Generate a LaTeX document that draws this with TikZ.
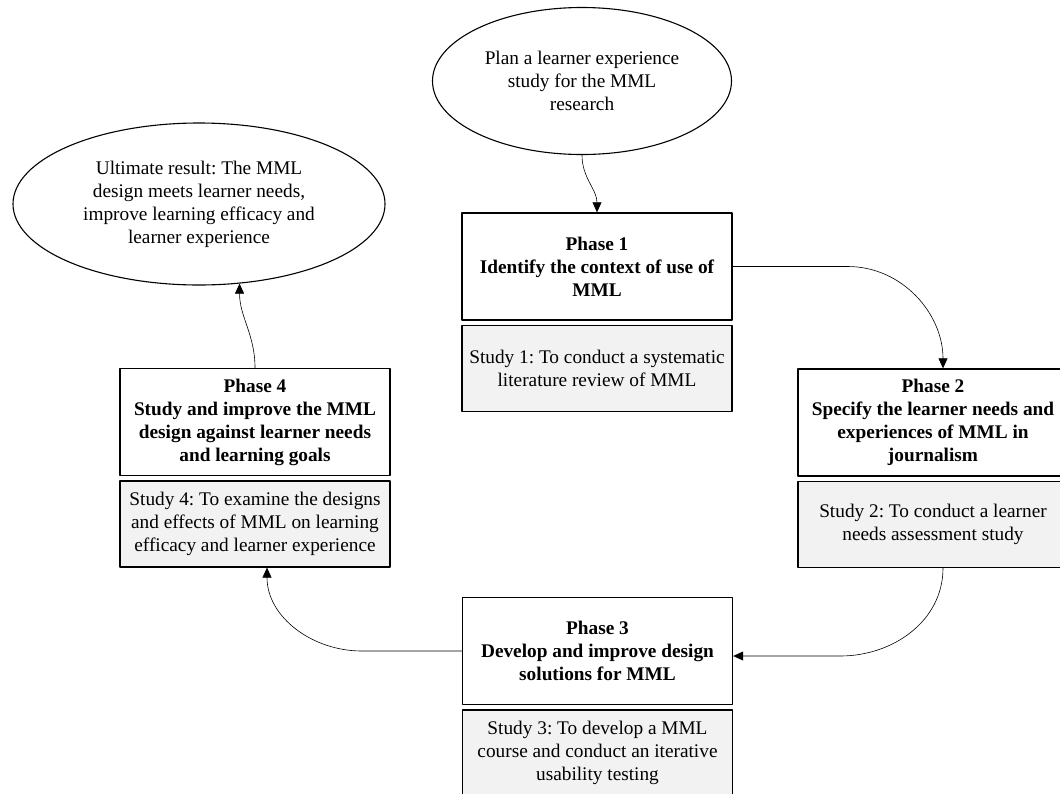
\documentclass[tikz,border=0pt]{standalone}
\usepackage{fontspec}
\setmainfont{Liberation Serif}
\usetikzlibrary{arrows.meta,positioning,shapes.geometric}
\definecolor{studygray}{RGB}{242,242,242}
\frenchspacing

\begin{document}
\begin{tikzpicture}[x=1pt, y=-1pt, line join=round, line cap=round, >={Triangle[length=10pt,width=9pt]},
		font=\fontsize{19.3}{23}\selectfont,
		phase/.style={draw, line width=1.4pt, minimum width=270pt, minimum height=107pt, align=center, inner sep=2pt, font=\fontsize{19.3}{23}\selectfont\bfseries},
		study/.style={draw, line width=1.4pt, fill=studygray, minimum width=270pt, minimum height=86pt, align=center, inner sep=2pt},
		goal/.style={draw, ellipse, line width=1.1pt, align=center, inner sep=0pt},
		link/.style={->, line width=0.6pt}]
	\def\xmin{0} \def\xmax{1060}
	\def\ymin{0} \def\ymax{793}
	\useasboundingbox (\xmin,\ymin) rectangle (\xmax,\ymax);
	% start and end
	\node[goal, minimum width=299pt, minimum height=147pt] (plan) at (582,81) {Plan a learner experience\\study for the MML\\research};
	\node[goal, minimum width=372pt, minimum height=162pt] (result) at (199,204) {Ultimate result: The MML\\design meets learner needs,\\improve learning efficacy and\\learner experience};
	% phases
	\node[phase] (ph1) at (597,266.5) {Phase 1\\Identify the context of use of\\MML};
	\node[study, below=4pt of ph1] (st1) {Study 1: To conduct a systematic\\literature review of MML};
	\node[phase] (ph2) at (933,422.5) {Phase 2\\Specify the learner needs and\\experiences of MML in\\journalism};
	\node[study, below=4pt of ph2] (st2) {Study 2: To conduct a learner\\needs assessment study};
	\node[phase] (ph3) at (597.5,651) {Phase 3\\Develop and improve design\\solutions for MML};
	\node[study, below=4pt of ph3] (st3) {Study 3: To develop a MML\\course and conduct an iterative\\usability testing};
	\node[phase] (ph4) at (255,422) {Phase 4\\Study and improve the MML\\design against learner needs\\and learning goals};
	\node[study, below=4pt of ph4] (st4) {Study 4: To examine the designs\\and effects of MML on learning\\efficacy and learner experience};
	% connectors
	\draw[link] (plan.south) to[out=-90,in=90] (ph1.north);
	\draw[link] (ph1.east) -- ([xshift=115pt]ph1.east) to[out=0,in=90] ([xshift=10pt]ph2.north);
	\draw[link] ([xshift=10pt]st2.south) to[out=-90,in=0] ([xshift=107pt,yshift=-5pt]ph3.east) -- ([yshift=-5pt]ph3.east);
	\draw[link] (ph3.west) -- ([xshift=-100pt]ph3.west) to[out=180,in=-90] ([xshift=12pt]st4.south);
	\draw[link] (ph4.north) to[out=90,in=-90] (result.-63);
\end{tikzpicture}
\end{document}
